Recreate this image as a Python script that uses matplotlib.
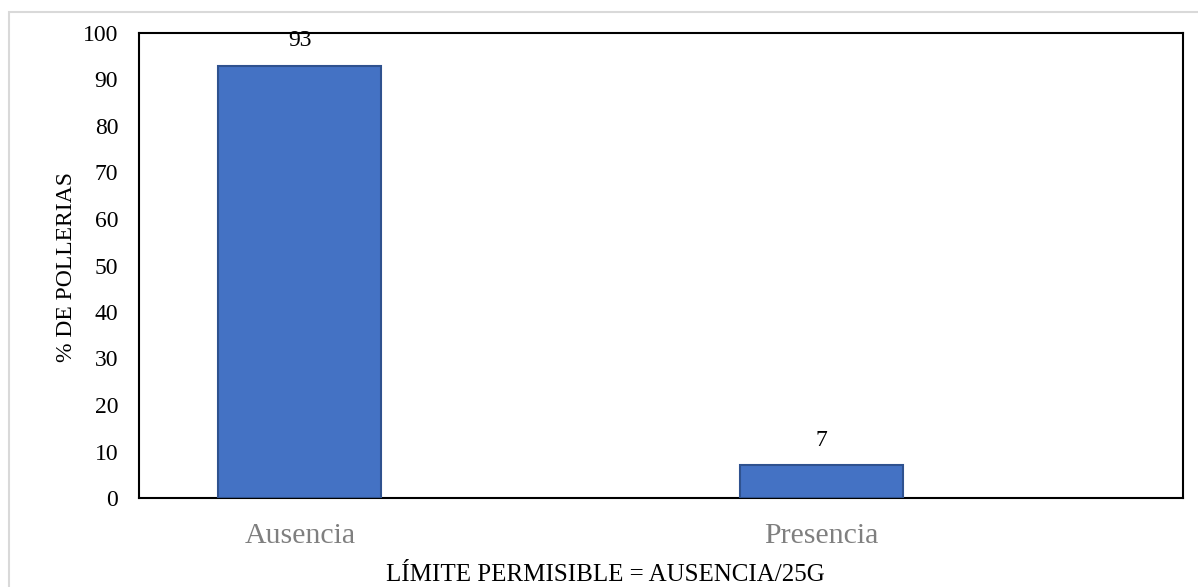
import matplotlib
matplotlib.use("Agg")
import matplotlib.pyplot as plt
from matplotlib.patches import Rectangle

categories = ["Ausencia", "Presencia"]
values = [93, 7]
y_ticks = [0, 10, 20, 30, 40, 50, 60, 70, 80, 90, 100]
y_label = "% DE POLLERIAS"
x_title = "LÍMITE PERMISIBLE = AUSENCIA/25G"

W, H = 1198, 587
fig = plt.figure(figsize=(W / 100, H / 100), dpi=100)
serif = ["Liberation Serif", "DejaVu Serif"]

# outer light-gray frame
fig.patches.append(Rectangle((9 / W, -0.05), 1.2, (H - 12) / H + 0.05, transform=fig.transFigure,
                             fill=False, edgecolor="#D9D9D9", linewidth=1.5))

ax = fig.add_axes([139 / W, 1 - 498 / H, (1183 - 139) / W, (498 - 33) / H])
x = list(range(len(categories)))
ax.bar(x, values, width=0.312, color="#4472C4", edgecolor="#2F528F", linewidth=1.5, zorder=3)
ax.set_xlim(-0.308, 1.692)
ax.set_ylim(0, 100)
ax.set_yticks(y_ticks)
ax.set_yticklabels([str(t) for t in y_ticks], fontfamily=serif, fontsize=17)
ax.set_xticks(x)
ax.set_xticklabels(categories, fontfamily=serif, fontsize=21.5, color="#7F7F7F")
ax.tick_params(axis="both", length=0)
ax.tick_params(axis="x", pad=18)
ax.tick_params(axis="y", pad=15)
for s in ax.spines.values():
    s.set_linewidth(1.5)
    s.set_color("black")

for xi, v in zip(x, values):
    ax.annotate(str(v), (xi, v), xytext=(0, 25), textcoords="offset pixels",
                ha="center", va="center", fontfamily=serif, fontsize=17, zorder=4)

fig.text(67 / W, 1 - 267 / H, y_label, rotation=90, ha="center", va="center",
         fontfamily=serif, fontsize=17)
fig.text(605 / W, 1 - 575 / H, x_title, ha="center", va="center",
         fontfamily=serif, fontsize=18)

fig.savefig("out.png", dpi=100)
